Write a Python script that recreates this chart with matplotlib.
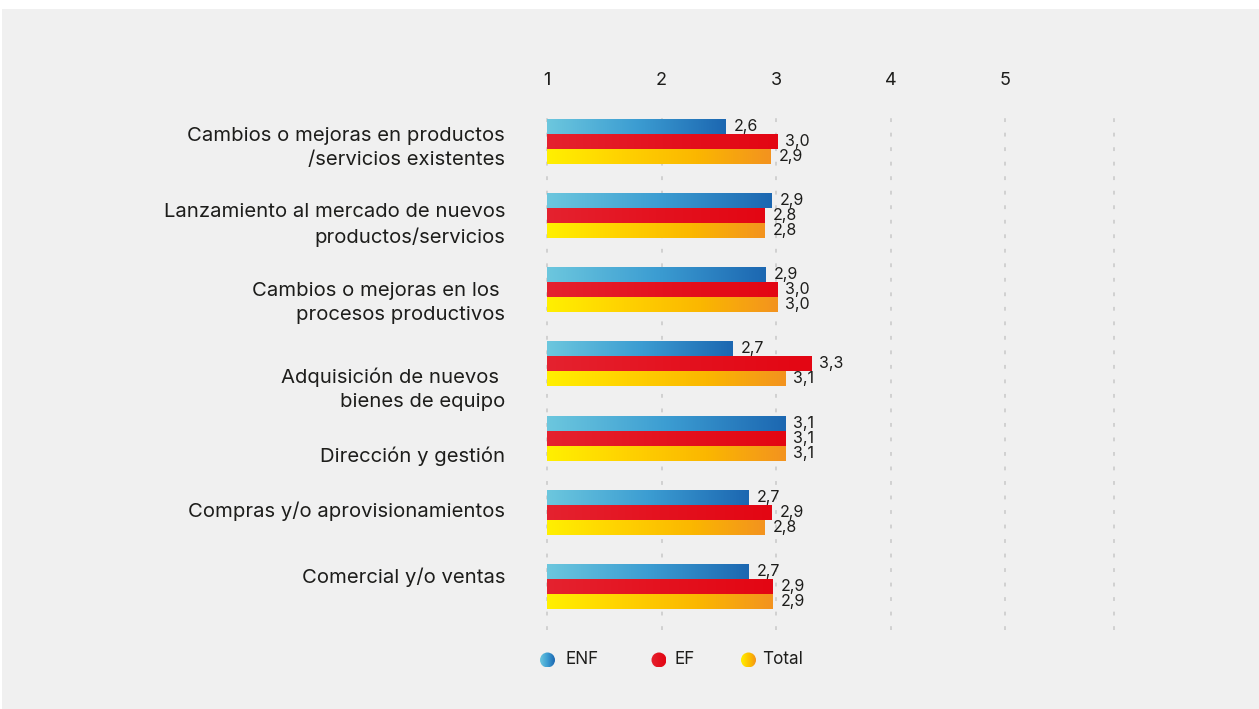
import numpy as np
import matplotlib
matplotlib.use("Agg")
import matplotlib.pyplot as plt
from matplotlib.colors import LinearSegmentedColormap
from matplotlib.patches import Rectangle, Circle

# ---------------- data ----------------
categories = [
    "Cambios o mejoras en productos\n/servicios existentes",
    "Lanzamiento al mercado de nuevos\nproductos/servicios",
    "Cambios o mejoras en los \nprocesos productivos",
    "Adquisición de nuevos \nbienes de equipo",
    "Dirección y gestión",
    "Compras y/o aprovisionamientos",
    "Comercial y/o ventas",
]
series_names = ["ENF", "EF", "Total"]
enf_values = [2.56, 2.96, 2.91, 2.62, 3.08, 2.76, 2.76]
ef_values = [3.01, 2.90, 3.01, 3.31, 3.08, 2.96, 2.97]
total_values = [2.95, 2.90, 3.01, 3.08, 3.08, 2.90, 2.97]
enf_labels = ["2,6", "2,9", "2,9", "2,7", "3,1", "2,7", "2,7"]
ef_labels = ["3,0", "2,8", "3,0", "3,3", "3,1", "2,9", "2,9"]
total_labels = ["2,9", "2,8", "3,0", "3,1", "3,1", "2,8", "2,9"]
xticks = [1, 2, 3, 4, 5]
xtick_labels = ["1", "2", "3", "4", "5"]

# ---------------- style ----------------
FONT = ["Inter", "DejaVu Sans"]
plt.rcParams["font.family"] = FONT
TXT = "#1d1d1b"
BG = "#f0f0f0"
cmaps = [
    LinearSegmentedColormap.from_list("enf", ["#6cc7de", "#3c9dd2", "#1c67b1"]),
    LinearSegmentedColormap.from_list("ef", ["#e5222f", "#e4121f", "#e30613"]),
    LinearSegmentedColormap.from_list("tot", ["#fff000", "#ffd200", "#fbb700", "#f3931f"]),
]

W, H = 1259, 709
fig = plt.figure(figsize=(W / 100, H / 100), dpi=100)
fig.patch.set_facecolor("white")
fig.patches.append(Rectangle((2 / W, 0), 1 - 2 / W, 1 - 9 / H, transform=fig.transFigure,
                             facecolor=BG, edgecolor="none", zorder=-10))

def fx(px):
    return px / W

def fy(py):
    return 1 - py / H

ax_left, ax_right, ax_top, ax_bot = 547, 1113.6, 108, 630
ax = fig.add_axes([fx(ax_left), fy(ax_bot), fx(ax_right) - fx(ax_left), fy(ax_top) - fy(ax_bot)])
ax.set_facecolor("none")
xmax = 1 + (ax_right - ax_left) / 114.5
n = len(categories)

bar_h = 0.202
offsets = [-bar_h, 0.0, bar_h]
all_vals = [enf_values, ef_values, total_values]
all_labs = [enf_labels, ef_labels, total_labels]
grad = np.linspace(0, 1, 256).reshape(1, -1)

for s, (vals, labs, cm) in enumerate(zip(all_vals, all_labs, cmaps)):
    ys = np.arange(n) + offsets[s]
    bars = ax.barh(ys, np.array(vals) - 1, left=1, height=bar_h,
                   facecolor="none", edgecolor="none", zorder=3)
    for bar, v, lab, y in zip(bars, vals, labs, ys):
        x0, x1 = bar.get_x(), bar.get_x() + bar.get_width()
        yb, yt = bar.get_y(), bar.get_y() + bar.get_height()
        im = ax.imshow(grad, extent=[x0, x1, yt, yb], aspect="auto", cmap=cm,
                       interpolation="bilinear", zorder=3)
        im.set_clip_path(bar)
        ax.annotate(lab, xy=(v, y), xytext=(8, 0), textcoords="offset pixels",
                    ha="left", va="center", fontsize=11.5, color=TXT, zorder=4)

# grid lines
for gx in xticks + [xmax]:
    ax.axvline(gx, color="#c8c8c8", lw=1.1, linestyle=(0, (2.5, 7)), zorder=1, clip_on=False)

ax.set_xlim(1, xmax)
ax.set_ylim(n - 1 + 0.586, -0.45)
ax.xaxis.tick_top()
ax.set_xticks(xticks)
ax.set_xticklabels(xtick_labels, fontsize=13, color=TXT)
ax.tick_params(axis="x", length=0, pad=14)
ax.set_yticks([])
for sp in ax.spines.values():
    sp.set_visible(False)

# category labels (right aligned)
label_shift_px = [7, 9, 13, 25, 18, -1.5, -9]
for i, (cat, sh) in enumerate(zip(categories, label_shift_px)):
    ax.annotate(cat, xy=(0, i), xycoords=("axes fraction", "data"),
                xytext=(-(ax_left - 505), -sh), textcoords="offset pixels",
                ha="right", va="center", multialignment="right",
                fontsize=14.6, color=TXT, linespacing=1.42)

# legend with gradient dots
lax = fig.add_axes([fx(530), fy(675), fx(830) - fx(530), fy(645) - fy(675)])
lax.set_xlim(530, 830)
lax.set_ylim(675, 645)
lax.axis("off")
leg_dot_x = [547.5, 659, 748.5]
leg_txt_x = [566, 675, 762]
r = 7.5
for name, cm, cx, tx in zip(series_names, cmaps, leg_dot_x, leg_txt_x):
    c = Circle((cx, 660), r, facecolor="none", edgecolor="none")
    lax.add_patch(c)
    im = lax.imshow(grad, extent=[cx - r, cx + r, 660 + r, 660 - r], aspect="auto",
                    cmap=cm, interpolation="bilinear")
    im.set_clip_path(c)
    lax.text(tx, 660, name, ha="left", va="center", fontsize=12.3, color=TXT)
lax.set_xlim(530, 830)
lax.set_ylim(675, 645)

fig.savefig("out.png", dpi=100, facecolor=fig.get_facecolor())
